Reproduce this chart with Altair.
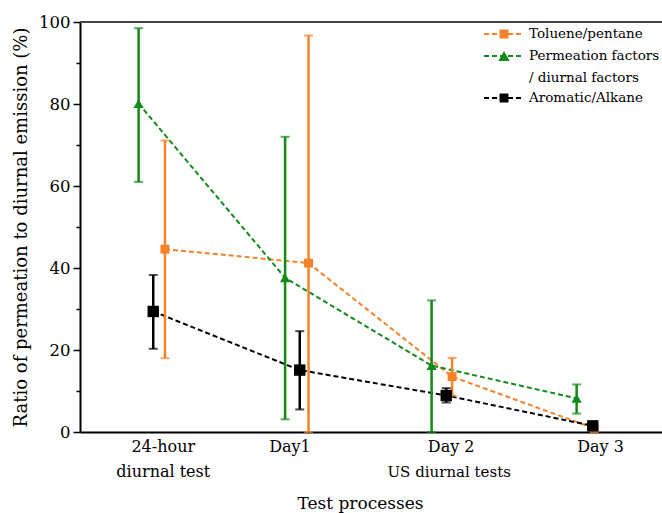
import altair as alt
import pandas as pd

series = ["Toluene/pentane", "Permeation factors / diurnal factors", "Aromatic/Alkane"]
colors = ["#F5822A", "#118A1A", "#000000"]
shapes = ["square", "triangle-up", "square"]
sizes = [80, 130, 80]

tol_x = [1.18, 2.16, 3.14, 4.11]
tol_v = [44.6, 41.2, 13.5, 0.9]
tol_lo = [18.0, 0.0, 8.9, 0.9]
tol_hi = [71.1, 96.7, 18.1, 0.9]

perm_x = [1.0, 2.0, 3.0, 3.99]
perm_v = [80.1, 37.6, 16.2, 8.2]
perm_lo = [61.0, 3.1, 0.0, 4.5]
perm_hi = [98.5, 72.0, 32.1, 11.6]

aro_x = [1.1, 2.1, 3.1, 4.1]
aro_v = [29.4, 15.1, 8.9, 1.5]
aro_lo = [20.3, 5.5, 7.2, 1.5]
aro_hi = [38.3, 24.6, 10.7, 1.5]

tick_pos = [1.165, 2.03, 3.13, 4.15]
tick_labels = [["24-hour", "diurnal test"], ["Day1"], ["Day 2"], ["Day 3"]]
group_label = ["US diurnal tests"]
group_x = [3.12]

legend_text = [["Toluene/pentane"], ["Permeation factors", "/ diurnal factors"], ["Aromatic/Alkane"]]

FONT = "DejaVu Serif"
W, H = 582, 410

rows = []
for s, xs, vs, los, his in [
    (series[0], tol_x, tol_v, tol_lo, tol_hi),
    (series[1], perm_x, perm_v, perm_lo, perm_hi),
    (series[2], aro_x, aro_v, aro_lo, aro_hi),
]:
    for x, v, lo, hi in zip(xs, vs, los, his):
        rows.append({"series": s, "x": x, "v": v, "lo": lo, "hi": hi})
df = pd.DataFrame(rows)

expr = "''"
for p, lab in reversed(list(zip(tick_pos, tick_labels))):
    js = "[" + ",".join("'" + t + "'" for t in lab) + "]"
    expr = f"abs(datum.value - {p}) < 0.001 ? {js} : ({expr})"

xscale = alt.Scale(domain=[0.6, 0.6 + W / 146.5], nice=False, zero=False)
yscale = alt.Scale(domain=[0, 100], nice=False)
cscale = alt.Scale(domain=series, range=colors)
sscale = alt.Scale(domain=series, range=shapes)
zscale = alt.Scale(domain=series, range=sizes)

xaxis = alt.Axis(
    values=tick_pos, labelExpr=expr, ticks=False, grid=False,
    domainColor="black", domainWidth=2, labelFont=FONT, labelFontSize=16,
    labelColor="black", labelLineHeight=25, labelPadding=6, labelBaseline="top",
    title="Test processes", titleFont=FONT, titleFontSize=17, titleFontWeight="normal",
    titleColor="black", titleX=280, titleY=71, titleBaseline="middle", titleAnchor="middle",
    labelFlush=False, labelOverlap=False,
)
yaxis = alt.Axis(
    values=list(range(0, 101, 10)),
    labelExpr="datum.value % 20 === 0 ? datum.label : ''",
    tickSize=alt.ExprRef(expr="datum.value % 20 === 0 ? 7 : 4"),
    tickColor="black", tickWidth=1.5, grid=False,
    domainColor="black", domainWidth=2, labelFont=FONT, labelFontSize=16.5,
    labelColor="black", labelPadding=3,
    title="Ratio of permeation to diurnal emission (%)", titleFont=FONT,
    titleFontSize=18, titleFontWeight="normal", titleColor="black", titlePadding=8,
)

base = alt.Chart(df)
x_enc = alt.X("x:Q", scale=xscale, axis=xaxis)
y_enc = alt.Y("v:Q", scale=yscale, axis=yaxis)
col = alt.Color("series:N", scale=cscale, legend=None)

lines = base.mark_line(strokeDash=[5, 3], strokeWidth=2).encode(
    x=x_enc, y=y_enc, color=col, order="x:Q"
)
bars = base.mark_rule(strokeWidth=2.5).encode(
    x=alt.X("x:Q", scale=xscale), y=alt.Y("lo:Q", scale=yscale), y2="hi:Q", color=col
)
cap_lo = base.mark_tick(orient="horizontal", size=9, thickness=2).encode(
    x=alt.X("x:Q", scale=xscale), y=alt.Y("lo:Q", scale=yscale), color=col
)
cap_hi = base.mark_tick(orient="horizontal", size=9, thickness=2).encode(
    x=alt.X("x:Q", scale=xscale), y=alt.Y("hi:Q", scale=yscale), color=col
)
points = base.mark_point(filled=True, opacity=1).encode(
    x=alt.X("x:Q", scale=xscale), y=alt.Y("v:Q", scale=yscale), color=col,
    shape=alt.Shape("series:N", scale=sscale, legend=None),
    size=alt.Size("series:N", scale=zscale, legend=None),
)

group = alt.Chart(pd.DataFrame({"x": group_x, "t": group_label})).mark_text(
    font=FONT, fontSize=15, color="black", baseline="middle", align="center"
).encode(x=alt.X("x:Q", scale=xscale), y=alt.value(H + 40), text="t:N")

frame = alt.Chart(pd.DataFrame({"a": [0]})).mark_rule(color="#444444", strokeWidth=2).encode(
    x=alt.value(0), x2=alt.value(W), y=alt.value(0)
)

legend_layers = []
leg_y = [12, 34, 76]
for i, (s, c, sh, sz, txt) in enumerate(zip(series, colors, shapes, sizes, legend_text)):
    y0 = leg_y[i]
    ld = pd.DataFrame({"s": [s]})
    legend_layers.append(
        alt.Chart(ld).mark_rule(color=c, strokeWidth=2, strokeDash=[5, 3]).encode(
            x=alt.value(404), x2=alt.value(444), y=alt.value(y0)
        )
    )
    legend_layers.append(
        alt.Chart(ld).mark_point(filled=True, size=sz, opacity=1, color=c, shape=sh).encode(
            x=alt.value(424), y=alt.value(y0)
        )
    )
    for j, t in enumerate(txt):
        legend_layers.append(
            alt.Chart(pd.DataFrame({"t": [t]})).mark_text(
                font=FONT, fontSize=13.5, color="black", align="left", baseline="middle"
            ).encode(x=alt.value(449), y=alt.value(y0 + 22 * j), text="t:N")
        )

chart = alt.layer(lines, bars, cap_lo, cap_hi, points, group, frame, *legend_layers).properties(
    width=W, height=H,
    padding={"left": 80, "top": 22, "right": 0, "bottom": 81},
    autosize="none", background="white",
).configure_view(stroke=None)

chart.save("out.html", embed_options={"renderer": "svg", "actions": False})
